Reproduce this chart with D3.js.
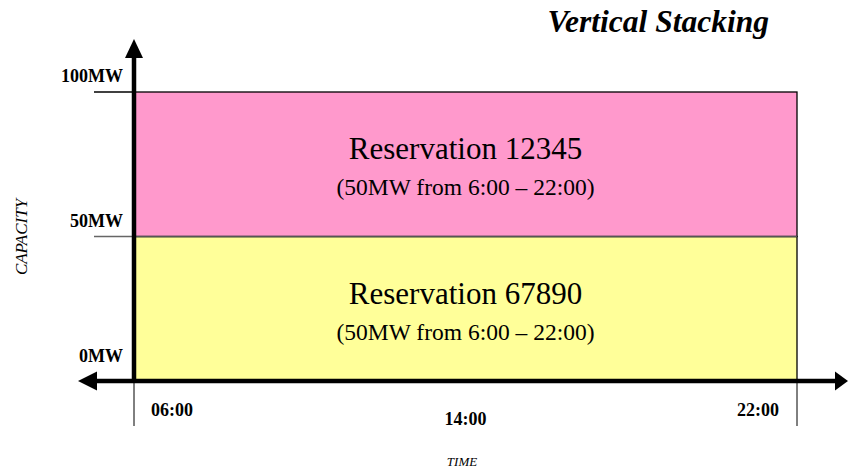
<!DOCTYPE html>
<html>
<head>
<meta charset="utf-8">
<script src="https://cdn.jsdelivr.net/npm/d3@7"></script>
<style>
  body { margin: 0; background: #fff; }
  svg { display: block; font-family: "Liberation Serif", "Times New Roman", serif; }
</style>
</head>
<body>
<svg id="chart"></svg>
<script>
// reservations, bottom of the stack first
var resIds    = ["67890", "12345"];
var resMW     = [50, 50];
var resStart  = [6, 6];
var resEnd    = [22, 22];
var resLabels = ["(50MW from 6:00 \u2013 22:00)", "(50MW from 6:00 \u2013 22:00)"];
var resColors = ["#ffff99", "#ff99cc"];

var yTicks      = [0, 50, 100];
var yTickLabels = ["0MW", "50MW", "100MW"];
var xTicks      = [6, 14, 22];
var xTickLabels = ["06:00", "14:00", "22:00"];

var width = 848, height = 468;

var svg = d3.select("#chart")
    .attr("width", width)
    .attr("height", height);

// set the ranges
var x = d3.scaleLinear().domain([6, 22]).range([134, 797]);
var y = d3.scaleLinear().domain([0, 100]).range([381, 92]);

// stack the reservations
var datum = [];
var base = 0;
resIds.forEach(function(id, i){
    datum.push({"id": id, "y0": base, "y1": base + resMW[i], "start": resStart[i], "end": resEnd[i], "label": resLabels[i], "color": resColors[i]});
    base += resMW[i];
});

// tick lines to the left of the y axis
svg.selectAll(".ytick")
    .data(yTicks.filter(function(d){ return d > 0; }))
    .enter().append("line")
    .attr("x1", 94).attr("x2", x(6))
    .attr("y1", function(d){ return y(d); })
    .attr("y2", function(d){ return y(d); })
    .style("stroke", function(d){ return d == 100 ? "#000" : "#666"; })
    .style("stroke-width", 1.3);

// tick lines below the x axis at the ends
svg.selectAll(".xtick")
    .data([xTicks[0], xTicks[xTicks.length - 1]])
    .enter().append("line")
    .attr("x1", function(d){ return x(d); })
    .attr("x2", function(d){ return x(d); })
    .attr("y1", y(0)).attr("y2", 426)
    .style("stroke", "#000")
    .style("stroke-width", 1);

// the reservation blocks
svg.selectAll(".block")
    .data(datum)
    .enter().append("rect")
    .attr("class", "block")
    .attr("x", function(d){ return x(d.start); })
    .attr("width", function(d){ return x(d.end) - x(d.start); })
    .attr("y", function(d){ return y(d.y1); })
    .attr("height", function(d){ return y(d.y0) - y(d.y1); })
    .style("fill", function(d){ return d.color; })
    .style("stroke", "#000")
    .style("stroke-width", 1.3);

// divider between the blocks is greyish
svg.append("line")
    .attr("x1", x(6)).attr("x2", x(22))
    .attr("y1", y(50)).attr("y2", y(50))
    .style("stroke", "#555")
    .style("stroke-width", 1.5);

// block titles
svg.selectAll(".btitle")
    .data(datum)
    .enter().append("text")
    .attr("x", function(d){ return (x(d.start) + x(d.end)) / 2; })
    .attr("y", function(d){ return y(d.y1) + 67; })
    .attr("text-anchor", "middle")
    .style("font-size", "31px")
    .text(function(d){ return "Reservation " + d.id; });

svg.selectAll(".bsub")
    .data(datum)
    .enter().append("text")
    .attr("x", function(d){ return (x(d.start) + x(d.end)) / 2; })
    .attr("y", function(d){ return y(d.y1) + 103; })
    .attr("text-anchor", "middle")
    .style("font-size", "23.5px")
    .text(function(d){ return d.label; });

// axes with arrow heads
svg.append("line")
    .attr("x1", x(6)).attr("x2", x(6))
    .attr("y1", y(0) + 2).attr("y2", 56)
    .style("stroke", "#000").style("stroke-width", 4.5);
svg.append("path")
    .attr("d", "M" + (x(6) - 9) + ",58L" + x(6) + ",39L" + (x(6) + 9) + ",58Z")
    .style("fill", "#000");

svg.append("line")
    .attr("x1", 95).attr("x2", 837)
    .attr("y1", y(0)).attr("y2", y(0))
    .style("stroke", "#000").style("stroke-width", 4.5);
svg.append("path")
    .attr("d", "M97," + (y(0) - 9.5) + "L78," + y(0) + "L97," + (y(0) + 9.5) + "Z")
    .style("fill", "#000");
svg.append("path")
    .attr("d", "M835," + (y(0) - 9.5) + "L848," + y(0) + "L835," + (y(0) + 9.5) + "Z")
    .style("fill", "#000");

// y tick labels
var yLabelBase = [362, 227, 82];
svg.selectAll(".ylabel")
    .data(yTicks)
    .enter().append("text")
    .attr("x", 123)
    .attr("y", function(d, i){ return yLabelBase[i]; })
    .attr("text-anchor", "end")
    .style("font-size", "18px")
    .style("font-weight", "bold")
    .text(function(d, i){ return yTickLabels[i]; });

// x tick labels
svg.selectAll(".xlabel")
    .data(xTicks)
    .enter().append("text")
    .attr("x", function(d, i){ return i == 0 ? x(d) + 17 : (i == 2 ? x(d) - 18 : x(d)); })
    .attr("y", function(d, i){ return i == 1 ? 425 : 416; })
    .attr("text-anchor", function(d, i){ return i == 0 ? "start" : (i == 2 ? "end" : "middle"); })
    .style("font-size", "18px")
    .style("font-weight", "bold")
    .text(function(d, i){ return xTickLabels[i]; });

// axis titles
svg.append("text")
    .attr("x", 462).attr("y", 466)
    .attr("text-anchor", "middle")
    .style("font-size", "13px")
    .style("font-style", "italic")
    .text("TIME");

svg.append("text")
    .attr("transform", "translate(27,237) rotate(-90)")
    .attr("text-anchor", "middle")
    .style("font-size", "17px")
    .style("font-style", "italic")
    .text("CAPACITY");

// chart title
svg.append("text")
    .attr("x", 769).attr("y", 32)
    .attr("text-anchor", "end")
    .style("font-size", "31.5px")
    .style("font-weight", "bold")
    .style("font-style", "italic")
    .text("Vertical Stacking");
</script>
</body>
</html>
